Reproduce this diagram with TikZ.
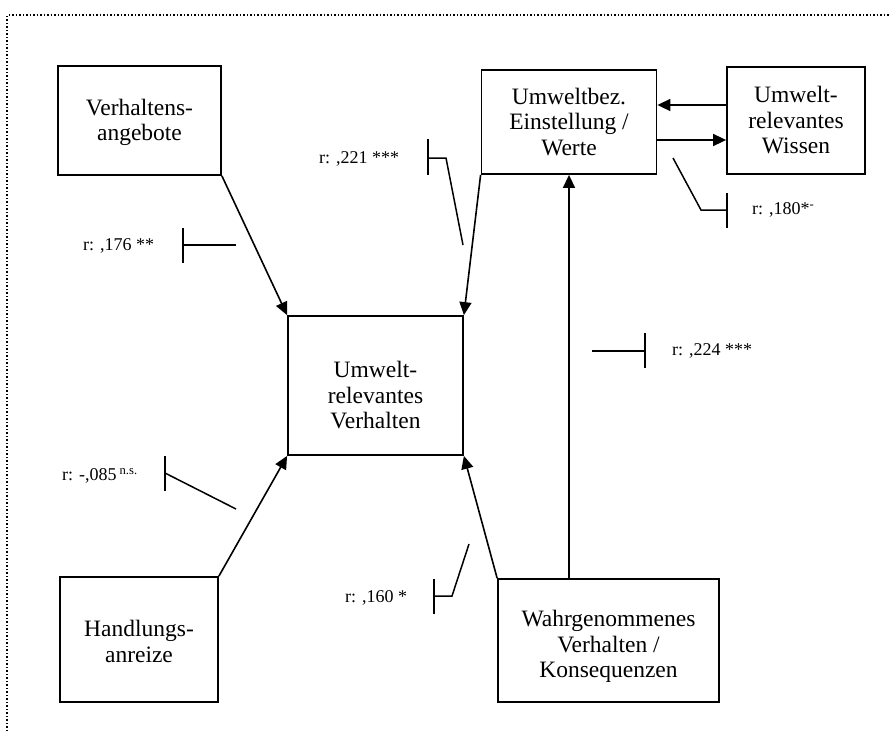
\documentclass[tikz,border=0pt]{standalone}
\usepackage{fontspec}
\setmainfont{Liberation Serif}
\usetikzlibrary{arrows.meta,calc}

\begin{document}
\begin{tikzpicture}[x=1pt,y=-1pt,
  box/.style={draw,line width=1.8pt,align=center,inner sep=0pt,
    font=\fontsize{23.5}{25.5}\selectfont},
  link/.style={line width=1.6pt,-{Triangle[length=13pt,width=12pt]}},
  corr/.style={font=\fontsize{18}{20}\selectfont,inner sep=0pt,anchor=west},
  pointer/.style={line width=1.5pt}]
\useasboundingbox (0,0) rectangle (891,731);

% frame (only the top and left sides lie inside the page)
\draw[dotted,line width=1.5pt] (7,731) -- (7,15) -- (891,15);

% factors
\node[box,minimum width=163pt,minimum height=109pt] (angebot) at (139.5,120.5) {\rule{0pt}{20pt}Verhaltens-\\angebote};
\node[box,minimum width=175pt,minimum height=104pt] (einst) at (569,122) {Umweltbez.\\Einstellung /\\Werte};
\node[box,minimum width=138pt,minimum height=107pt] (wissen) at (796,120.5) {Umwelt-\\relevantes\\Wissen};
\node[box,minimum width=175pt,minimum height=139pt] (verh) at (375.5,385.5) {\rule{0pt}{36pt}Umwelt-\\relevantes\\Verhalten};
\node[box,minimum width=158pt,minimum height=125pt] (hand) at (139,639.5) {\rule{0pt}{20pt}Handlungs-\\anreize};
\node[box,minimum width=221pt,minimum height=123pt] (wahr) at (608.5,640.5) {\rule{0pt}{28pt}Wahrgenommenes\\Verhalten /\\Konsequenzen};

% influences
\draw[link] (angebot.south east) -- (verh.north west);
\draw[link] (einst.south west) -- (verh.north east);
\draw[link] (hand.north east) -- (verh.south west);
\draw[link] (wahr.north west) -- (verh.south east);
\draw[link] (wahr.north -| einst.south) -- (einst.south);
\draw[link] (wissen.west |- 0,105) -- (einst.east |- 0,105);
\draw[link] (einst.east |- 0,140) -- (wissen.west |- 0,140);

% correlation labels
\node[corr] (c221) at (319,159) {r: ,221 ***};
\node[corr] (c176) at (83,246) {r: ,176 **};
\node[corr] (c085) at (62,476) {r: -,085\,\textsuperscript{n.s.}};
\node[corr] (c160) at (345,598) {r: ,160 *};
\node[corr] (c224) at (672,351) {r: ,224 ***};
\node[corr] (c180) at (752,210) {r: ,180*\textsuperscript{-}};

% label pointers
\draw[pointer] (428,139) -- (428,175);
\draw[pointer] (428,158) -- (446,158) -- (463,245);
\draw[pointer] (183,228) -- (183,263);
\draw[pointer] (183,245) -- (236,245);
\draw[pointer] (165,456) -- (165,491);
\draw[pointer] (165,473) -- (236,509);
\draw[pointer] (434,579) -- (434,614);
\draw[pointer] (434,596) -- (452,596) -- (469,544);
\draw[pointer] (645,333) -- (645,368);
\draw[pointer] (592,351) -- (645,351);
\draw[pointer] (727,193) -- (727,228);
\draw[pointer] (727,210) -- (701,210) -- (673,158);
\end{tikzpicture}
\end{document}
